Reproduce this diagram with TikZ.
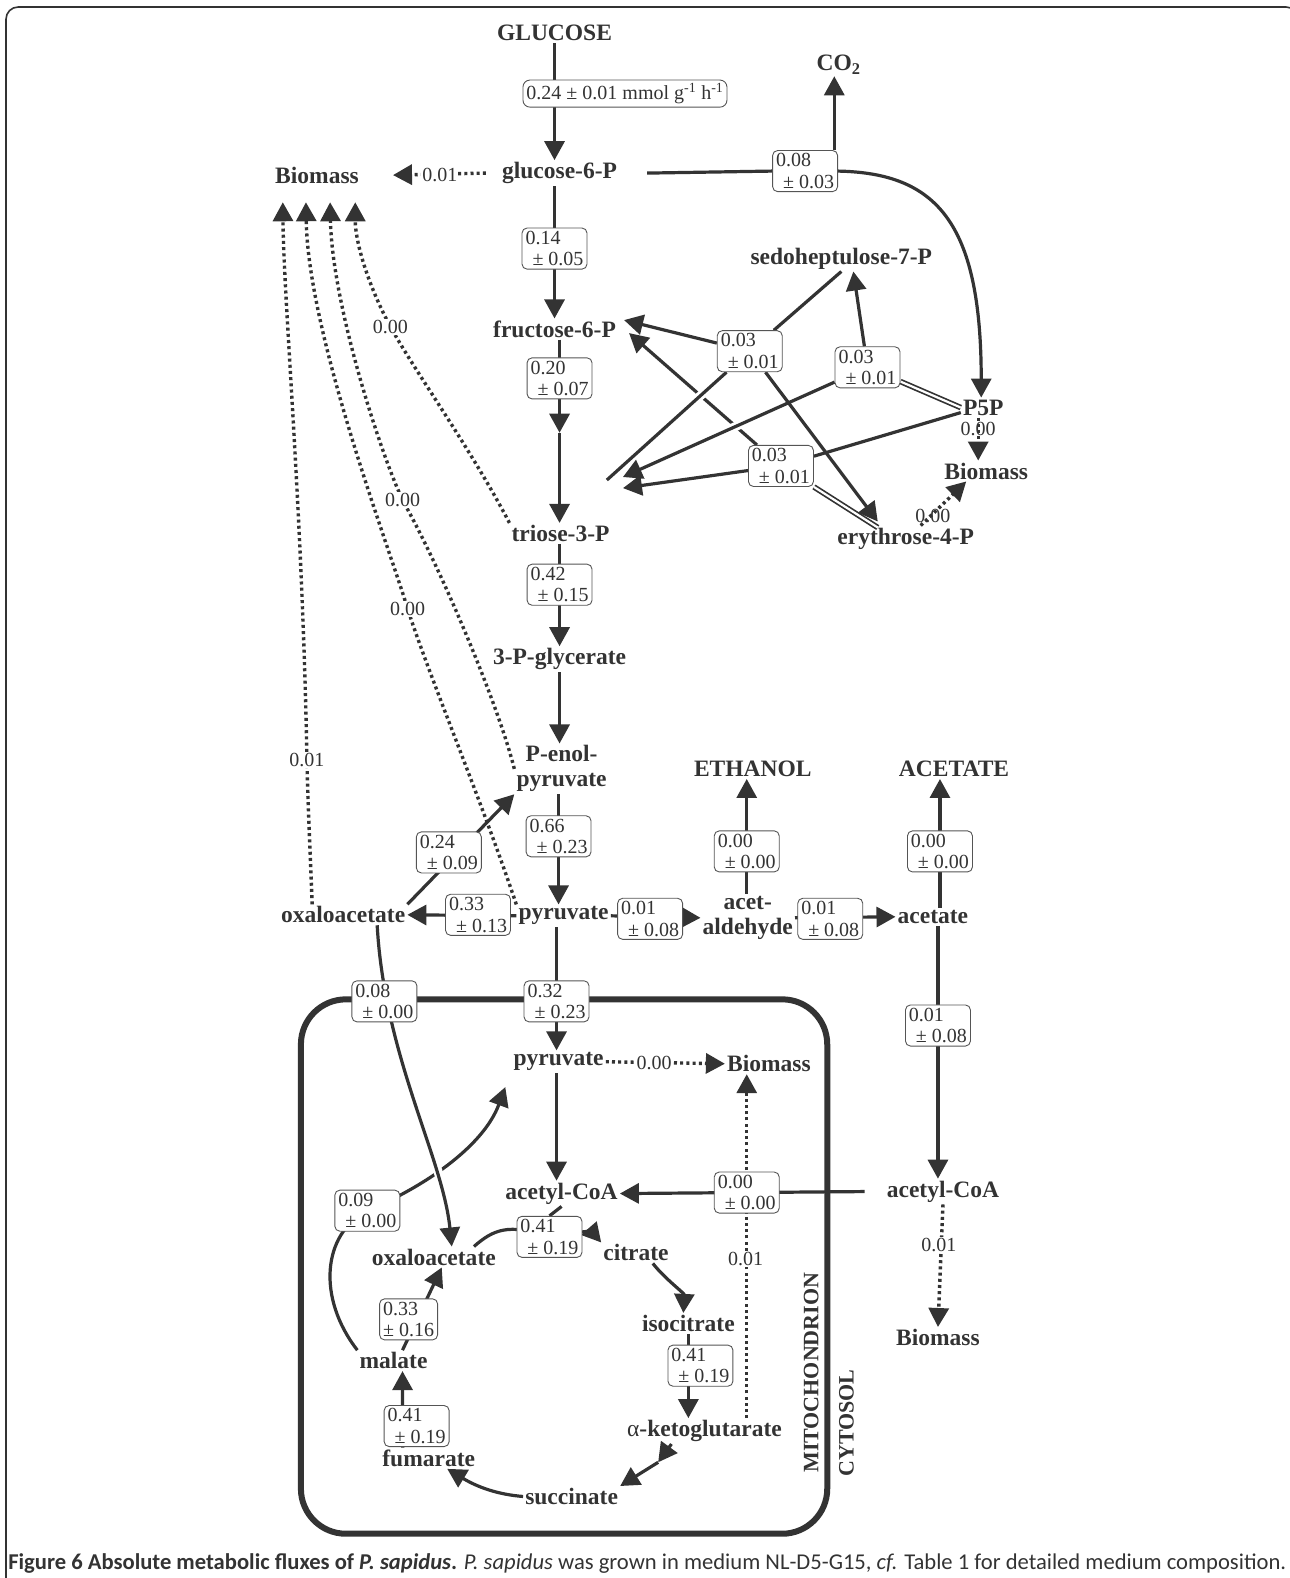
\documentclass[tikz,border=0pt]{standalone}
\usepackage{fontspec}
\setmainfont{Liberation Serif}
\newfontfamily\capfont{Carlito}
\usepackage{tikz}
\usetikzlibrary{arrows.meta,backgrounds}
\definecolor{INK}{HTML}{333333}
\definecolor{BOXLINE}{HTML}{555555}
\newcommand{\fx}[2]{#1\\\hspace*{0.35em}± #2}

\begin{document}
\begin{tikzpicture}[x=1.00625pt,y=-1.00625pt]
\tikzset{met/.style={font=\fontsize{23.5}{25}\selectfont\bfseries,text=INK,inner sep=2pt,align=center},
 flux/.style={draw=BOXLINE,line width=0.9pt,rounded corners=5pt,fill=white,text=INK,font=\fontsize{20}{21.5}\selectfont,align=left,inner xsep=3.5pt,inner ysep=3pt},
 val/.style={font=\fontsize{20}{21}\selectfont,text=INK,fill=white,inner sep=1pt},
 ln/.style={line width=3.2pt,draw=INK},arr/.style={ln,-{Triangle[length=19pt,width=20pt]}},
 dotl/.style={line width=3.4pt,draw=INK,dash pattern=on 3pt off 3.2pt},darr/.style={dotl,-{Triangle[length=19pt,width=20pt]}},
 dbl/.style={draw=INK,line width=1.7pt,double=white,double distance=2.2pt},
 halo/.style={preaction={draw=white,arrows=-,line width=9pt,shorten <=#1,shorten >=#1}},halo/.default=28pt}
\useasboundingbox (0,0) rectangle (1281,1568);
% glycolysis
\node[met] (glc) at (551,33) {GLUCOSE};
\node[flux,rounded corners=7pt] (fglc) at (621,93) {0.24 ± 0.01 mmol g\textsuperscript{-1} h\textsuperscript{-1}};
\node[met] (g6p) at (556,172) {glucose-6-P};
\node[met] (bioA) at (315,174) {Biomass};
\node[met] (co2) at (829,64) {CO\rlap{\textsubscript{2}}};
\node[flux] (f08) at (800,170) {\fx{0.08}{0.03}};
\node[flux] (f14) at (551,247) {\fx{0.14}{0.05}};
\node[met] (f6p) at (551,327) {fructose-6-P};
\node[flux] (f20) at (556,376) {\fx{0.20}{0.07}};
\node[met] (t3p) at (557,530) {triose-3-P};
\node[flux] (f42) at (556,581) {\fx{0.42}{0.15}};
\node[met] (pga) at (556,655) {3-P-glycerate};
\node[met] (pep) at (558,764) {P-enol-\\pyruvate};
\node[flux] (f66) at (555,831) {\fx{0.66}{0.23}};
\node[met] (pyr) at (560,910) {pyruvate};
\node[met] (oaa) at (341,909) {oxaloacetate};
\node[flux] (f33) at (475,909) {\fx{0.33}{0.13}};
\node[flux] (f24) at (446,847) {\fx{0.24}{0.09}};
\node[flux] (f01a) at (646,913) {\fx{0.01}{0.08}};
\node[met] (acald) at (743,912) {acet-\\aldehyde};
\node[flux] (f01b) at (825,913) {\fx{0.01}{0.08}};
\node[met] (ace) at (927,911) {acetate};
\node[met] (etoh) at (748,764) {ETHANOL};
\node[flux] (fetoh) at (742,846) {\fx{0.00}{0.00}};
\node[met] (acetate) at (948,764) {ACETATE};
\node[flux] (face) at (934,846) {\fx{0.00}{0.00}};
\node[flux] (f01c) at (932,1019) {\fx{0.01}{0.08}};
\node[met] (accoa) at (937,1184) {acetyl-CoA};
\node[met] (bioC) at (932,1329) {Biomass};
% pentose phosphate
\node[met] (s7p) at (836,257) {sedoheptulose-7-P};
\node[flux] (fA) at (745,349) {\fx{0.03}{0.01}};
\node[flux] (fB) at (862,365) {\fx{0.03}{0.01}};
\node[flux] (fC) at (776,463) {\fx{0.03}{0.01}};
\node[met] (p5p) at (977,405) {P5P};
\node[met] (bioB) at (980,468) {Biomass};
\node[met] (e4p) at (900,535) {erythrose-4-P};
\coordinate (t3pa) at (603,477);
\coordinate (t3pb) at (619,474);
\coordinate (t3pc) at (619,485);
% mitochondrion
\node[flux] (f32) at (553,995) {\fx{0.32}{0.23}};
\node[flux] (f08m) at (382,995) {\fx{0.08}{0.00}};
\node[met] (mpyr) at (555,1055) {pyruvate};
\node[met] (bioD) at (764,1057) {Biomass};
\node[flux] (f00) at (742,1185) {\fx{0.00}{0.00}};
\node[met] (maccoa) at (558,1186) {acetyl-CoA};
\node[flux] (f09) at (365,1203) {\fx{0.09}{0.00}};
\node[met] (moaa) at (431,1249) {oxaloacetate};
\node[flux] (f41a) at (546,1229) {\fx{0.41}{0.19}};
\node[met] (cit) at (632,1245) {citrate};
\node[met] (icit) at (684,1315) {isocitrate};
\node[flux] (f41b) at (696,1357) {\fx{0.41}{0.19}};
\node[met] (akg) at (700,1422) {{\mdseries α}-ketoglutarate};
\node[met] (suc) at (568,1487) {succinate};
\node[met] (fum) at (426,1449) {fumarate};
\node[flux] (f41c) at (414,1417) {\fx{0.41}{0.19}};
\node[met] (mal) at (391,1352) {malate};
\node[flux] (f33m) at (406,1311) {0.33\\± 0.16};
\node[met,rotate=90,font=\fontsize{22}{24}\selectfont\bfseries] (mito) at (806,1364) {MITOCHONDRION};
\node[met,rotate=90,font=\fontsize{22}{24}\selectfont\bfseries] (cyto) at (841,1414) {CYTOSOL};
% values on biomass drains
\node[val] (v1) at (437,174) {0.01};
\node[val] (l4) at (388,325) {0.00};
\node[val] (l3) at (400,497) {0.00};
\node[val] (l2) at (405,605) {0.00};
\node[val] (l1) at (305,755) {0.01};
\node[val,fill=none] (vp5p) at (972,426) {0.00};
\node[val,fill=none] (ve4p) at (927,513) {0.00};
\node[val] (vpyr) at (650,1056) {0.00};
\node[val] (vakg) at (741,1251) {0.01};
\node[val] (vacc) at (933,1237) {0.01};
\coordinate (bio1) at (281,201);
\coordinate (bio2) at (304,201);
\coordinate (bio3) at (328,201);
\coordinate (bio4) at (353,201);
\node[anchor=west,inner sep=0pt,text=INK,font=\capfont\fontsize{22.6}{24}\selectfont] (cap) at (8,1554) {\textbf{Figure 6 Absolute metabolic fluxes of \textit{P. sapidus}.} \textit{P. sapidus} was grown in medium NL-D5-G15, \textit{cf.} Table 1 for detailed medium composition.};

\begin{scope}[on background layer]
\draw[line width=1.6pt,draw=INK,rounded corners=12pt] (6,7) rectangle (1290,1620);
\draw[line width=6pt,draw=INK,rounded corners=45pt] (299,993) rectangle (822,1524);
% cytosol
\draw[arr] (glc.south) -- (glc.south |- g6p.north);
\draw[darr] ([xshift=-14pt]g6p.west) -- ([xshift=32pt]bioA.east);
\draw[ln] ([xshift=28pt]g6p.east) -- (f08.west);
\draw[arr] (f08.east) .. controls (930,172) and (975,220) .. (p5p.north -| 975,0);
\draw[arr] (f08.north -| co2.south) -- (co2.south);
\draw[arr] (f14 |- g6p.south) -- (f14 |- f6p.north);
\coordinate (mid1) at (556,430);
\draw[arr] (f20 |- f6p.south) -- (mid1);
\draw[arr] (mid1) -- (mid1 |- t3p.north);
\draw[arr] (f42 |- t3p.south) -- (f42 |- pga.north);
\draw[arr] (f42 |- pga.south) -- (f42 |- pep.north);
\draw[arr] (f66 |- pep.south) -- (f66 |- pyr.north);
\draw[arr] (pyr.west) -- (oaa.east);
\draw[arr] (oaa.north east) -- (pep.south west);
\draw[arr] (pyr.east) -- (acald.west);
\draw[arr] (acald.east) -- (ace.west);
\draw[arr] (fetoh |- acald.north) -- (fetoh |- etoh.south);
\draw[arr] (face |- ace.north) -- (face |- acetate.south);
\draw[arr] (f01c |- ace.south) -- (f01c |- accoa.north);
\draw[darr] (accoa.south) -- (bioC.north);
\draw[arr] ([xshift=-20pt]accoa.west) -- (maccoa.east);
% drains to biomass
\draw[dotl] ([xshift=-31pt]oaa.north) .. controls (308,840) and (306,800) .. (l1);
\draw[darr] (l1) .. controls (300,500) and (282,300) .. (bio1);
\draw[dotl] (pyr.north west) .. controls (480,800) and (430,680) .. (l2);
\draw[darr] (l2) .. controls (385,540) and (306,330) .. (bio2);
\draw[dotl] (pep.west) .. controls (495,700) and (440,570) .. (l3);
\draw[darr] (l3) .. controls (375,440) and (330,300) .. (bio3);
\draw[dotl] (t3p.north west) .. controls (470,450) and (420,380) .. (l4);
\draw[darr] (l4) .. controls (365,280) and (353,240) .. (bio4);
% pentose phosphate
\draw[arr] (fC) -- ([xshift=11pt,yshift=-4pt]f6p.east);
\draw[ln] (fC) -- ([yshift=-5pt]p5p.west);
\draw[dbl] (fC) -- ([xshift=-28pt,yshift=-2pt]e4p.north);
\draw[arr] (fC) -- (t3pc);
\draw[ln,halo=15pt] (fA) -- (t3pa);
\draw[arr,halo] (fB) -- (t3pb);
\draw[arr] (fA) -- ([xshift=-28pt,yshift=4pt]e4p.north);
\draw[arr] (fA) -- ([xshift=6pt,yshift=9pt]f6p.east);
\draw[ln] (fA) -- (s7p.south);
\draw[arr] (fB) -- ([xshift=12pt]s7p.south);
\draw[dbl] (fB) -- (p5p.west);
\draw[darr] (p5p.south -| 972,0) -- (bioB.north -| 972,0);
\draw[darr] ([xshift=15pt]e4p.north) -- ([xshift=-20pt]bioB.south);
% mitochondrion
\draw[arr] (f32 |- pyr.south) -- (f32 |- mpyr.north);
\draw[darr] (mpyr.east) -- (bioD.west);
\draw[arr] (f32 |- mpyr.south) -- (f32 |- maccoa.north);
\draw[ln] (maccoa.south) -- (f41a.north);
\draw[arr] ([xshift=-24pt]moaa.north east) .. controls (490,1222) and (505,1215) .. (f41a.center) .. controls (570,1222) and (590,1226) .. (cit.north west);
\draw[arr] ([xshift=-18pt]cit.south east) .. controls (660,1270) and (680,1285) .. ([xshift=-5pt]icit.north);
\draw[arr] (icit.south) -- (akg.north -| icit.south);
\coordinate (mid2) at (654,1453);
\draw[arr] ([xshift=-33pt]akg.south) -- (mid2);
\draw[arr] (mid2) -- (suc.north east);
\draw[arr] (suc.west) .. controls (495,1485) and (475,1478) .. ([xshift=-30pt]fum.south east);
\draw[arr] ([xshift=-26pt]fum.north) -- ([xshift=9pt]mal.south);
\draw[arr] ([xshift=9pt]mal.north) -- ([xshift=8pt]moaa.south);
\draw[arr] (mal.north west) .. controls (315,1290) and (320,1226) .. (f09.center) .. controls (420,1180) and (480,1140) .. ([xshift=-6pt,yshift=-14pt]mpyr.south west);
\draw[arr,halo] ([xshift=34pt]oaa.south) .. controls (382,1050) and (440,1150) .. ([xshift=18pt]moaa.north);
\draw[darr] (f00 |- akg.north) -- (f00 |- bioD.south);
\end{scope}
\end{tikzpicture}
\end{document}
